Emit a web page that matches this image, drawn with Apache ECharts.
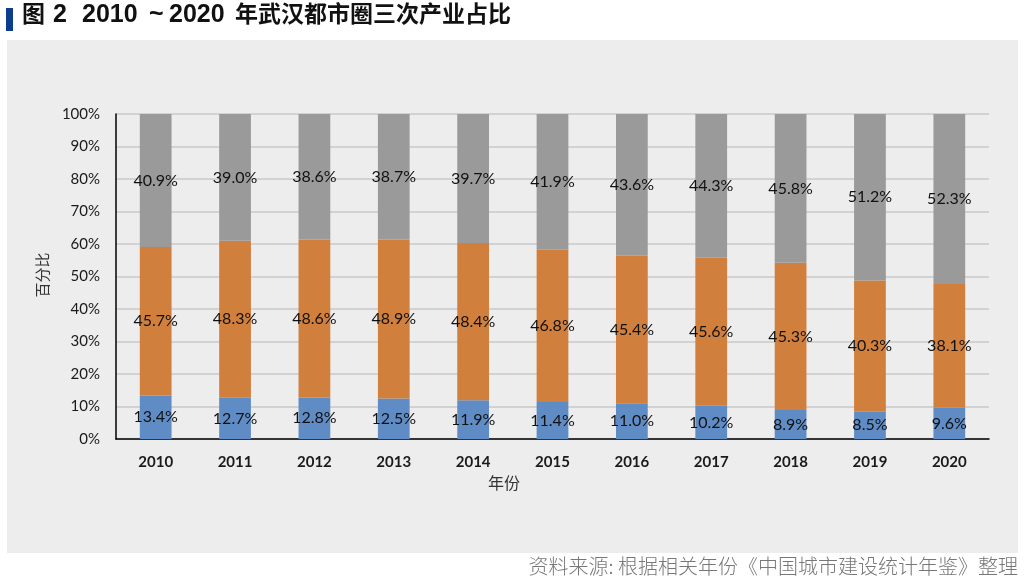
<!DOCTYPE html>
<html><head><meta charset="utf-8">
<script src="https://cdn.jsdelivr.net/npm/echarts@6/dist/echarts.min.js"></script>
<style>html,body{margin:0;padding:0;background:#fff}#c{width:1024px;height:587px}</style>
</head><body><div id="c"></div>
<script>
const years = ['2010','2011','2012','2013','2014','2015','2016','2017','2018','2019','2020'];
const primary = [13.4,12.7,12.8,12.5,11.9,11.4,11.0,10.2,8.9,8.5,9.6];
const secondary = [45.7,48.3,48.6,48.9,48.4,46.8,45.4,45.6,45.3,40.3,38.1];
const tertiary = [40.9,39.0,38.6,38.7,39.7,41.9,43.6,44.3,45.8,51.2,52.3];
const yTicks = [0,10,20,30,40,50,60,70,80,90,100];

const labelFont = 'Lato, "Noto Sans CJK SC", sans-serif';
const titleFont = 'bold 23px "Liberation Sans", "Noto Sans CJK SC", sans-serif';
const titleLatin = 'bold 25px "Liberation Sans", sans-serif';
function mk(name, data, color){
  return {name, type:'bar', stack:'s', data, barWidth:'40%',
    itemStyle:{color},
    label:{show:true, position:'inside', color:'#111', fontSize:16, fontFamily:labelFont,
      formatter:p=>p.value.toFixed(1)+'%'}};
}
const chart = echarts.init(document.getElementById('c'));
chart.setOption({
  animation:false,
  graphic:[
    {type:'rect', z:-100, shape:{x:7,y:40,width:1011,height:513}, style:{fill:'#ecedec'}},
    {type:'rect', shape:{x:6,y:8,width:7,height:23}, style:{fill:'#0b3d8c'}},
    {type:'text', left:22, top:4, style:{text:'图', fill:'#111', font:titleFont}},
    {type:'text', left:53, top:3, style:{text:'2', fill:'#111', font:titleLatin}},
    {type:'text', left:82, top:3, style:{text:'2010', fill:'#111', font:titleLatin}},
    {type:'text', left:149, top:3, style:{text:'~', fill:'#111', font:titleLatin}},
    {type:'text', left:169, top:3, style:{text:'2020', fill:'#111', font:titleLatin}},
    {type:'text', left:235, top:4, style:{text:'年武汉都市圈三次产业占比', fill:'#111', font:titleFont}},
    {type:'text', right:6, top:556, style:{text:'资料来源: 根据相关年份《中国城市建设统计年鉴》整理', fill:'#777', font:'300 20px "Noto Sans CJK SC", sans-serif'}},
    {type:'text', x:42, y:275, rotation:Math.PI/2, style:{text:'百分比', fill:'#333', font:'15px "Noto Sans CJK SC", sans-serif', align:'center', verticalAlign:'middle'}},
    {type:'text', x:504, y:483, style:{text:'年份', fill:'#333', font:'16px "Noto Sans CJK SC", sans-serif', align:'center', verticalAlign:'middle'}}
  ],
  grid:{left:116, right:35, top:114, bottom:148},
  xAxis:{type:'category', data:years,
    axisLine:{lineStyle:{color:'#000', width:1.5}}, axisTick:{show:false},
    axisLabel:{color:'#1a1a1a', fontSize:15, fontWeight:'bold', fontFamily:labelFont, margin:16}},
  yAxis:{type:'value', min:0, max:100, interval:10,
    axisLine:{show:true, lineStyle:{color:'#000', width:1.5}}, axisTick:{show:false},
    axisLabel:{color:'#1a1a1a', fontSize:15, fontFamily:labelFont, margin:16,
      formatter:v=>yTicks.includes(v)? v+'%' : ''},
    splitLine:{lineStyle:{color:'#d2d2d2', width:2}}},
  series:[mk('第一产业',primary,'#5f8cc4'), mk('第二产业',secondary,'#d17f3d'), mk('第三产业',tertiary,'#9a9a9a')]
});
</script></body></html>
